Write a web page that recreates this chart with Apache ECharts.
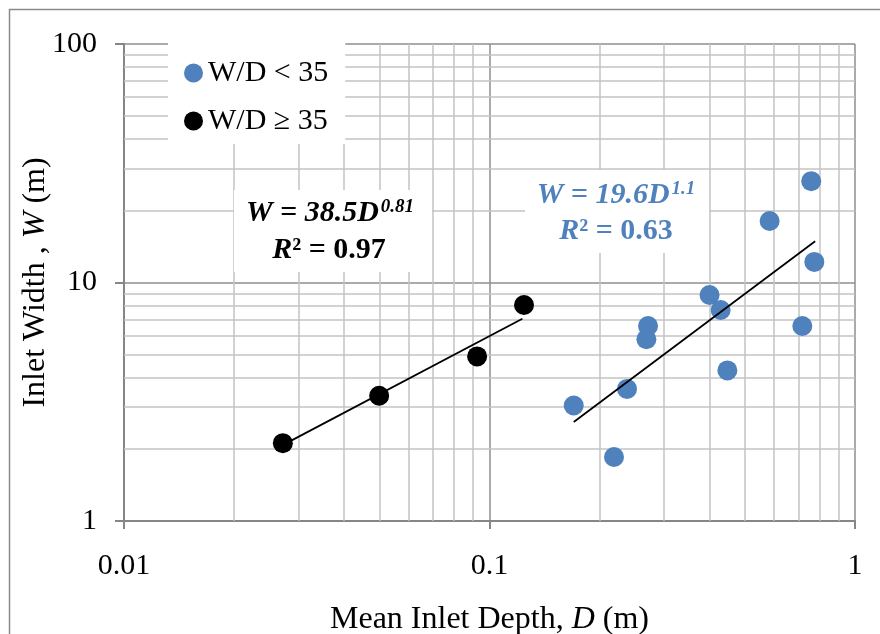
<!DOCTYPE html>
<html>
<head>
<meta charset="utf-8">
<script src="https://cdn.jsdelivr.net/npm/echarts@6/dist/echarts.min.js"></script>
<style>html,body{margin:0;padding:0;background:#fff}#c{width:880px;height:634px}</style>
</head>
<body>
<div id="c"></div>
<script>
// Data
const seriesNames = ['W/D < 35', 'W/D \u2265 35'];
const blueDepth = [0.759, 0.584, 0.774, 0.400, 0.429, 0.2715, 0.2687, 0.7175, 0.4475, 0.2378, 0.170, 0.2191];
const blueWidth = [26.6, 18.1, 12.2, 8.86, 7.67, 6.57, 5.78, 6.57, 4.28, 3.58, 3.05, 1.855];
const blackDepth = [0.0272, 0.0499, 0.0925, 0.1243];
const blackWidth = [2.12, 3.35, 4.90, 8.05];
// Trend line end points
const blueFitDepth = [0.170, 0.778];
const blueFitWidth = [2.60, 14.9];
const blackFitDepth = [0.0275, 0.123];
const blackFitWidth = [2.10, 7.05];
// Minor gridline positions
const minorX = [0.02,0.03,0.04,0.05,0.06,0.07,0.08,0.09,0.2,0.3,0.4,0.5,0.6,0.7,0.8,0.9];
const minorY = [2,3,4,5,6,7,8,9,20,30,40,50,60,70,80,90];

const FONT = "'Liberation Serif', 'Times New Roman', serif";
const BLUE = '#4f81bd';
const zip = (a, b) => a.map((v, i) => [v, b[i]]);

const chart = echarts.init(document.getElementById('c'), null, {renderer: 'canvas'});

const minorLines = [].concat(
  minorX.map(v => ({xAxis: v})),
  minorY.map(v => ({yAxis: v}))
);

chart.setOption({
  animation: false,
  backgroundColor: '#fff',
  grid: {left: 124, right: 25, top: 44, bottom: 113, containLabel: false, outerBoundsMode: 'none'},
  xAxis: {
    type: 'log', logBase: 10, min: 0.01, max: 1,
    name: 'Mean Inlet Depth, {i|D} (m)',
    nameLocation: 'middle', nameGap: 83,
    nameTextStyle: {fontFamily: FONT, fontSize: 32, color: '#000',
      rich: {i: {fontFamily: FONT, fontSize: 32, fontStyle: 'italic', color: '#000'}}},
    axisLine: {show: true, lineStyle: {color: '#868686', width: 2}},
    axisTick: {show: true, inside: false, length: 8, lineStyle: {color: '#868686', width: 2}},
    axisLabel: {fontFamily: FONT, fontSize: 30, color: '#000', margin: 30},
    splitLine: {show: true, lineStyle: {color: '#8e8e8e', width: 1.5}},
    minorTick: {show: false}, minorSplitLine: {show: false}
  },
  yAxis: {
    type: 'log', logBase: 10, min: 1, max: 100,
    name: 'Inlet Width , {i|W} (m)',
    nameLocation: 'middle', nameGap: 72, nameRotate: 90, nameMoveOverlap: false,
    nameTextStyle: {fontFamily: FONT, fontSize: 32, color: '#000',
      rich: {i: {fontFamily: FONT, fontSize: 32, fontStyle: 'italic', color: '#000'}}},
    axisLine: {show: true, lineStyle: {color: '#868686', width: 2}},
    axisTick: {show: true, inside: false, length: 9, lineStyle: {color: '#868686', width: 2}},
    axisLabel: {fontFamily: FONT, fontSize: 30, color: '#000', margin: 27},
    splitLine: {show: true, lineStyle: {color: '#8e8e8e', width: 1.5}},
    minorTick: {show: false}, minorSplitLine: {show: false}
  },
  legend: {
    data: seriesNames,
    orient: 'vertical',
    left: 168, top: 43, z: 20,
    padding: [15, 17, 8, 16],
    itemGap: 18, itemWidth: 19, itemHeight: 19,
    icon: 'circle',
    backgroundColor: '#fff',
    selectedMode: false,
    textStyle: {fontFamily: FONT, fontSize: 30, color: '#000'}
  },
  series: [
    {
      name: 'minor-grid', type: 'scatter', data: [], silent: true, z: 1,
      markLine: {
        silent: true, z: 1, symbol: ['none', 'none'], animation: false,
        label: {show: false}, emphasis: {disabled: true},
        lineStyle: {type: 'solid', color: '#c3c3c3', width: 1.5},
        data: minorLines
      }
    },
    {
      name: seriesNames[0], type: 'scatter', z: 3,
      symbol: 'circle', symbolSize: 20,
      itemStyle: {color: BLUE, opacity: 1},
      data: zip(blueDepth, blueWidth)
    },
    {
      name: seriesNames[1], type: 'scatter', z: 3,
      symbol: 'circle', symbolSize: 20,
      itemStyle: {color: '#000', opacity: 1},
      data: zip(blackDepth, blackWidth)
    },
    {
      name: 'fit-blue', type: 'line', z: 4, symbol: 'none', silent: true,
      lineStyle: {color: '#000', width: 1.8},
      data: zip(blueFitDepth, blueFitWidth)
    },
    {
      name: 'fit-black', type: 'line', z: 4, symbol: 'none', silent: true,
      lineStyle: {color: '#000', width: 1.8},
      data: zip(blackFitDepth, blackFitWidth)
    }
  ],
  graphic: [
    {type: 'rect', silent: true, z: -10, shape: {x: 9.5, y: 9.5, width: 900, height: 700},
     style: {fill: 'none', stroke: '#8a8a8a', lineWidth: 1.5}},
    {type: 'rect', z: 50, silent: true, shape: {x: 234, y: 190, width: 198, height: 82}, style: {fill: '#fff'}},
    {type: 'text', z: 51, silent: true, x: 330, y: 213, style: {
      text: '{b|W = 38.5D}{s|0.81}', align: 'center', verticalAlign: 'middle',
      rich: {
        b: {fontFamily: FONT, fontSize: 30, fontWeight: 'bold', fontStyle: 'italic', fill: '#000', lineHeight: 30, verticalAlign: 'middle'},
        s: {fontFamily: FONT, fontSize: 19, fontWeight: 'bold', fontStyle: 'italic', fill: '#000', verticalAlign: 'top', lineHeight: 30, padding: [0, 0, 0, 2]}
      }}},
    {type: 'text', z: 51, silent: true, x: 329, y: 250, style: {
      text: '{i|R}{b|\u00b2 = 0.97}', align: 'center', verticalAlign: 'middle',
      rich: {
        i: {fontFamily: FONT, fontSize: 30, fontWeight: 'bold', fontStyle: 'italic', fill: '#000'},
        b: {fontFamily: FONT, fontSize: 30, fontWeight: 'bold', fill: '#000'}
      }}},
    {type: 'rect', z: 50, silent: true, shape: {x: 525, y: 170, width: 184, height: 83}, style: {fill: '#fff'}},
    {type: 'text', z: 51, silent: true, x: 616, y: 195, style: {
      text: '{b|W = 19.6D}{s|1.1}', align: 'center', verticalAlign: 'middle',
      rich: {
        b: {fontFamily: FONT, fontSize: 30, fontWeight: 'bold', fontStyle: 'italic', fill: BLUE, lineHeight: 30, verticalAlign: 'middle'},
        s: {fontFamily: FONT, fontSize: 19, fontWeight: 'bold', fontStyle: 'italic', fill: BLUE, verticalAlign: 'top', lineHeight: 30, padding: [0, 0, 0, 2]}
      }}},
    {type: 'text', z: 51, silent: true, x: 616, y: 231, style: {
      text: '{i|R}{b|\u00b2 = 0.63}', align: 'center', verticalAlign: 'middle',
      rich: {
        i: {fontFamily: FONT, fontSize: 30, fontWeight: 'bold', fontStyle: 'italic', fill: BLUE},
        b: {fontFamily: FONT, fontSize: 30, fontWeight: 'bold', fill: BLUE}
      }}}
  ]
});
</script>
</body>
</html>
